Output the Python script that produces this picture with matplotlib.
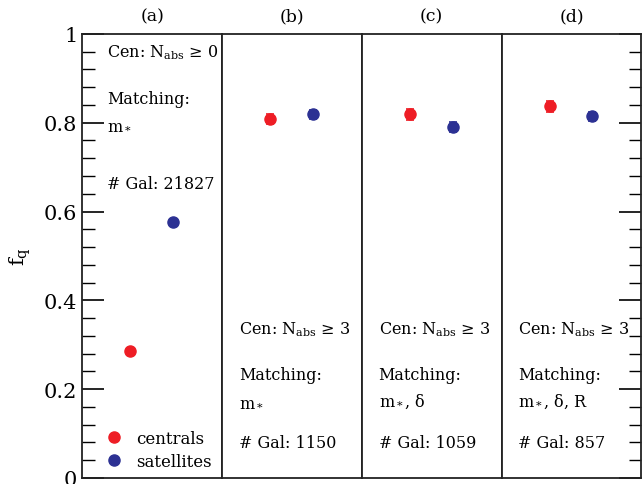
import matplotlib
matplotlib.use("Agg")
import matplotlib.pyplot as plt
import numpy as np
from matplotlib.ticker import MultipleLocator, FuncFormatter
from matplotlib.lines import Line2D

plt.rcParams['font.family'] = 'DejaVu Serif'
plt.rcParams['mathtext.fontset'] = 'dejavuserif'

# quenched fractions, one entry per panel (a)-(d)
panels = ['(a)', '(b)', '(c)', '(d)']
fq_cen = [0.285, 0.809, 0.819, 0.837]
fq_cen_err = [0.004, 0.011, 0.012, 0.012]
fq_sat = [0.577, 0.819, 0.790, 0.815]
fq_sat_err = [0.004, 0.010, 0.011, 0.010]
cen_cut = ['0', '3', '3', '3']
matching = [r'm$_*$', r'm$_*$', r'm$_*$, δ', r'm$_*$, δ, R']
n_gal = ['21827', '1150', '1059', '857']

red = '#ee1d25'
blue = '#2c3193'

fig = plt.figure(figsize=(6.42, 4.85), dpi=100)
gs = fig.add_gridspec(1, 4, left=0.128, right=0.999, bottom=0.0124, top=0.928, wspace=0)
axs = [fig.add_subplot(gs[0, i]) for i in range(4)]

for i, ax in enumerate(axs):
    ax.errorbar([1], [fq_cen[i]], yerr=[fq_cen_err[i]], fmt='o', color=red, ms=8,
                elinewidth=1.2, capsize=3, capthick=1.2)
    ax.errorbar([2], [fq_sat[i]], yerr=[fq_sat_err[i]], fmt='o', color=blue, ms=8,
                elinewidth=1.2, capsize=3, capthick=1.2)
    ax.set_xlim(-0.12, 3.14)
    ax.set_ylim(0, 1)
    ax.set_xticks([])
    ax.yaxis.set_major_locator(MultipleLocator(0.2))
    ax.yaxis.set_minor_locator(MultipleLocator(0.04))
    ax.yaxis.set_major_formatter(FuncFormatter(lambda v, p: '%g' % round(v, 2)))
    ax.tick_params(axis='y', which='major', direction='in', length=16, width=1.2, labelsize=15)
    ax.tick_params(axis='y', which='minor', direction='in', length=9, width=1.0)
    for s in ax.spines.values():
        s.set_linewidth(1.3)
        s.set_color('#222222')
    ax.set_title(panels[i], fontsize=12.5, pad=10)
    if i == 0:
        ax.set_ylabel(r'f$_\mathregular{q}$', fontsize=15, labelpad=8)
        tx = 0.18
        ys = [0.959, 0.854, 0.795, 0.664]
        handles = [Line2D([], [], ls='none', marker='o', ms=8, color=red),
                   Line2D([], [], ls='none', marker='o', ms=8, color=blue)]
        ax.legend(handles, ['centrals', 'satellites'], loc='lower left',
                  bbox_to_anchor=(0.1, -0.004), frameon=False, fontsize=12,
                  handletextpad=0.8, borderpad=0.1, labelspacing=0.35, handlelength=1.0)
    else:
        ax.tick_params(axis='y', which='both', left=False, labelleft=False)
        tx = 0.12
        ys = [0.336, 0.234, 0.173, 0.081]
    if i == 3:
        ax.tick_params(axis='y', which='both', right=True)
    fs = 11.5
    ax.text(tx, ys[0], r'Cen: N$_{\rm abs}$ ≥ ' + cen_cut[i], transform=ax.transAxes,
            fontsize=fs, va='center')
    ax.text(tx, ys[1], 'Matching:', transform=ax.transAxes, fontsize=fs, va='center')
    ax.text(tx, ys[2], matching[i], transform=ax.transAxes, fontsize=fs, va='center')
    ax.text(tx, ys[3], '# Gal: ' + n_gal[i], transform=ax.transAxes, fontsize=fs, va='center')

fig.savefig('out.png', dpi=100)
